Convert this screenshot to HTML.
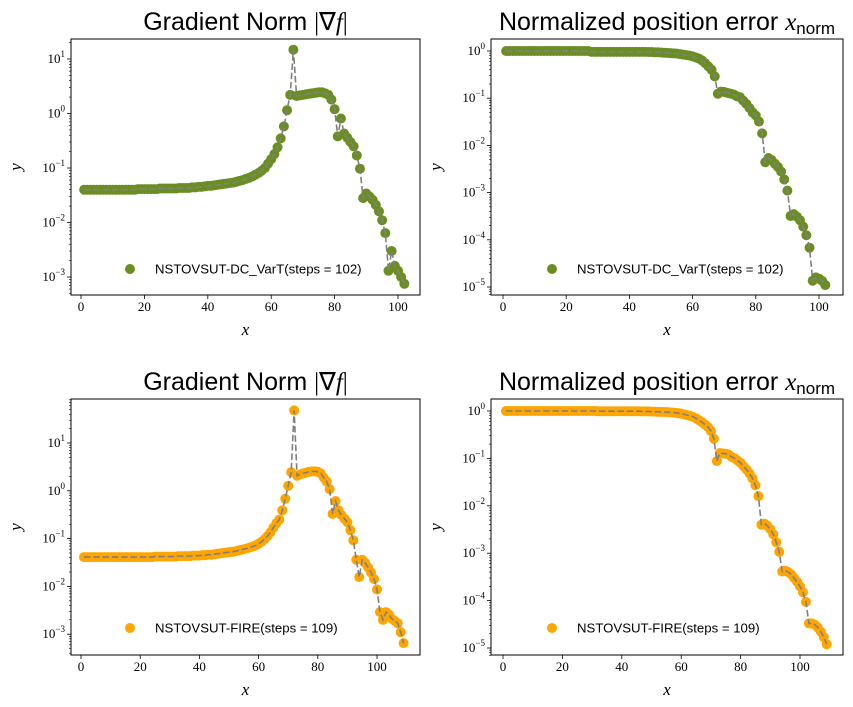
<!DOCTYPE html>
<html><head><meta charset="utf-8"><style>
html,body{margin:0;padding:0;background:#fff;}
svg{display:block;}
.tt{font-family:"Liberation Sans",sans-serif;font-size:25px;fill:#000;}
.tk{font-family:"Liberation Serif",serif;font-size:13px;fill:#000;}
.lg{font-family:"Liberation Sans",sans-serif;font-size:13.2px;fill:#000;}
.ax{font-family:"Liberation Serif",serif;font-style:italic;font-size:17px;fill:#000;}
</style></head><body>
<svg id="fig" width="853" height="707" viewBox="0 0 853 707" xmlns="http://www.w3.org/2000/svg"></svg>
<script>
const grad1 = [0.040,0.040,0.040,0.040,0.040,0.040,0.040,0.040,0.040,0.040,
0.040,0.040,0.040,0.040,0.040,0.040,0.040,0.041,0.041,0.041,
0.041,0.041,0.041,0.041,0.042,0.042,0.042,0.042,0.042,0.042,
0.043,0.043,0.043,0.043,0.044,0.044,0.045,0.045,0.046,0.047,
0.047,0.048,0.049,0.050,0.051,0.052,0.053,0.054,0.056,0.058,
0.060,0.063,0.066,0.070,0.075,0.081,0.089,0.10,0.12,0.145,
0.18,0.24,0.35,0.58,1.15,2.2,14.8,2.1,2.15,2.2,
2.25,2.3,2.35,2.4,2.45,2.45,2.35,2.2,1.8,1.2,
0.38,0.81,0.43,0.36,0.3,0.25,0.17,0.097,0.028,0.034,
0.030,0.026,0.021,0.016,0.011,0.0064,0.0013,0.003,0.0016,0.0013,
0.001,0.00075];
const norm1 = [1,1,1,1,1,1,1,1,1,1,
1,1,1,1,1,1,1,1,1,1,
1,1,1,1,1,1,1,0.96,0.96,0.96,
0.96,0.96,0.96,0.96,0.96,0.96,0.96,0.96,0.96,0.96,
0.96,0.96,0.96,0.96,0.96,0.95,0.95,0.94,0.94,0.93,
0.92,0.91,0.90,0.89,0.88,0.86,0.84,0.82,0.80,0.77,
0.73,0.69,0.63,0.55,0.47,0.40,0.29,0.124,0.138,0.135,
0.13,0.125,0.12,0.11,0.105,0.089,0.076,0.062,0.05,0.043,
0.032,0.018,0.0044,0.0054,0.0049,0.0041,0.0035,0.0028,0.0019,0.0011,
0.00032,0.00035,0.00031,0.00026,0.00019,0.000125,0.000068,0.0000136,0.000016,0.000015,
0.0000135,0.000011];
const grad2 = [0.041,0.041,0.041,0.041,0.041,0.041,0.041,0.041,0.041,0.041,
0.041,0.041,0.041,0.041,0.041,0.041,0.041,0.041,0.041,0.041,
0.041,0.041,0.041,0.041,0.042,0.042,0.042,0.042,0.042,0.042,
0.042,0.042,0.043,0.043,0.043,0.043,0.043,0.044,0.044,0.044,
0.045,0.045,0.046,0.046,0.047,0.048,0.049,0.050,0.051,0.052,
0.053,0.054,0.056,0.058,0.060,0.062,0.065,0.068,0.072,0.078,
0.086,0.097,0.113,0.135,0.17,0.21,0.25,0.39,0.68,1.27,
2.45,48,2.06,2.2,2.3,2.4,2.5,2.55,2.55,2.5,
2.3,1.9,1.56,1.08,0.33,0.61,0.39,0.31,0.26,0.22,
0.15,0.092,0.036,0.0157,0.036,0.031,0.025,0.0195,0.0143,0.0086,
0.0029,0.002,0.0029,0.0026,0.0021,0.0019,0.0017,0.0011,0.00065];
const norm2 = [1,1,1,1,1,1,1,1,1,1,
1,1,1,1,1,1,1,1,1,1,
1,1,1,1,1,1,1,1,1,1,
1,0.99,0.99,0.99,0.99,0.99,0.99,0.99,0.99,0.99,
0.99,0.99,0.99,0.99,0.99,0.99,0.98,0.98,0.98,0.97,
0.97,0.96,0.96,0.95,0.95,0.94,0.93,0.92,0.90,0.88,
0.85,0.82,0.79,0.75,0.70,0.64,0.58,0.52,0.46,0.38,
0.26,0.088,0.13,0.128,0.125,0.12,0.107,0.1,0.09,0.08,
0.068,0.058,0.048,0.038,0.027,0.016,0.0040,0.0042,0.0038,0.0032,
0.0025,0.0017,0.00107,0.00041,0.00043,0.0004,0.00036,0.0003,0.00025,0.0002,
0.00015,0.000094,0.000033,0.000033,0.000031,0.000027,0.000022,0.000017,0.000012];
const xTicks = [0,20,40,60,80,100];
const legend1 = "NSTOVSUT-DC_VarT(steps = 102)";
const legend2 = "NSTOVSUT-FIRE(steps = 109)";

const NS = "http://www.w3.org/2000/svg";
const fig = document.getElementById('fig');
function mk(tag, attrs, parent){ const e=document.createElementNS(NS,tag); for(const k in attrs) e.setAttribute(k,attrs[k]); (parent||fig).appendChild(e); return e; }

const panels = [
 {id:'grad-top', data:grad1, color:'#6b8e23', L:71,R:420,T:39,B:295, x0:81,x100:398, topDec:1, topPx:59, dec:54.5, decs:[1,0,-1,-2,-3], title:'grad', legend:legend1, legX:130, legY:269},
 {id:'norm-top', data:norm1, color:'#6b8e23', L:491,R:843,T:39,B:295, x0:503,x100:819, topDec:0, topPx:51, dec:47.2, decs:[0,-1,-2,-3,-4,-5], title:'norm', legend:legend1, legX:552, legY:269},
 {id:'grad-bottom', data:grad2, color:'#ffa500', L:71,R:420,T:399,B:655, x0:81,x100:377, topDec:1, topPx:443, dec:47.8, decs:[1,0,-1,-2,-3], title:'grad', legend:legend2, legX:130, legY:628},
 {id:'norm-bottom', data:norm2, color:'#ffa500', L:491,R:843,T:399,B:655, x0:503,x100:800, topDec:0, topPx:411, dec:47.4, decs:[0,-1,-2,-3,-4,-5], title:'norm', legend:legend2, legX:552, legY:628}
];

panels.forEach(p=>{
  const g = mk('g',{});
  
  
  const sx = v => p.x0 + (p.x100-p.x0)*v/100;
  const sy = v => p.topPx + (p.topDec - Math.log10(v))*p.dec;
  const cx = (p.L+p.R)/2;
  const t = mk('text',{x:cx, y:p.T-9, 'text-anchor':'middle', class:'tt'}, g);
  
  
  if(p.title==='grad'){
    t.innerHTML = 'Gradient Norm <tspan font-family="Liberation Serif">|∇<tspan font-style="italic">f</tspan>|</tspan>';
  } else {
    t.innerHTML = 'Normalized position error <tspan font-family="Liberation Serif" font-style="italic">x</tspan><tspan font-size="17" dy="4">norm</tspan>';
  }
  const cp = mk('clipPath',{id:'clip-'+p.id}, g);
  mk('rect',{x:p.L,y:p.T,width:p.R-p.L,height:p.B-p.T}, cp);
  const plot = mk('g',{'clip-path':'url(#clip-'+p.id+')'}, g);
  p.data.forEach((v,i)=>{
    const c = mk('circle',{cx:sx(i+1), cy:sy(v), r:5, fill:p.color}, plot);
    
    
  });
  const d = p.data.map((v,i)=>(i?'L':'M')+sx(i+1).toFixed(2)+','+sy(v).toFixed(2)).join(' ');
  const ln = mk('path',{d:d, fill:'none', stroke:'#808080', 'stroke-width':1.6, 'stroke-dasharray':'6.5,2.8'}, plot);
  
  
  const fr = mk('rect',{x:p.L,y:p.T,width:p.R-p.L,height:p.B-p.T,fill:'none',stroke:'#000','stroke-width':1}, g);
  
  
  xTicks.forEach(v=>{
    const x = sx(v);
    mk('line',{x1:x,x2:x,y1:p.B,y2:p.B+4,stroke:'#000','stroke-width':0.8}, g);
    const tl = mk('text',{x:x,y:p.B+16,'text-anchor':'middle',class:'tk'}, g);
    tl.textContent = v;
    
    
  });
  const dmin = Math.min(...p.decs)-1, dmax = Math.max(...p.decs)+1;
  for(let dd=dmin; dd<=dmax; dd++){
    for(let m=1;m<=9;m++){
      const y = sy(m*Math.pow(10,dd));
      if(y<p.T-0.5||y>p.B+0.5) continue;
      mk('line',{x1:p.L-(m===1?4:2),x2:p.L,y1:y,y2:y,stroke:'#000','stroke-width':m===1?0.8:0.6}, g);
    }
  }
  p.decs.forEach(e=>{
    const y = sy(Math.pow(10,e));
    const tl = mk('text',{x:p.L-6,y:y+4,'text-anchor':'end',class:'tk'}, g);
    tl.innerHTML = '10<tspan font-size="9" dy="-6">'+(e<0?'−'+(-e):e)+'</tspan>';
    
    
  });
  const xl = mk('text',{x:cx, y:p.B+40, 'text-anchor':'middle', class:'ax'}, g);
  xl.textContent = 'x';
  
  
  const yx = p.L-50, yy=(p.T+p.B)/2;
  const yl = mk('text',{x:yx, y:yy, 'text-anchor':'middle', class:'ax', transform:'rotate(-90 '+yx+' '+yy+')'}, g);
  yl.textContent = 'y';
  
  
  const lg = mk('g',{}, g);
  
  
  mk('circle',{cx:p.legX, cy:p.legY, r:5, fill:p.color}, lg);
  const lt = mk('text',{x:p.legX+25, y:p.legY+4.5, class:'lg'}, lg);
  lt.textContent = p.legend;
});
</script>
</body></html>
